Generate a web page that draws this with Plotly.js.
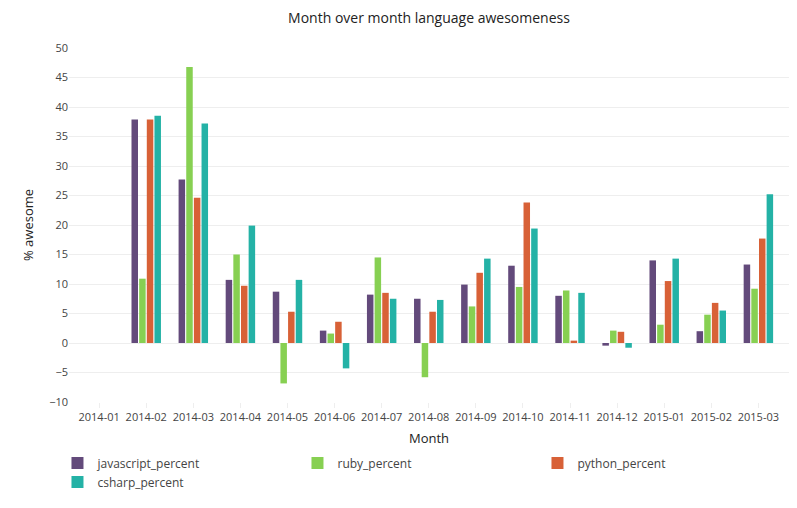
<!DOCTYPE html>
<html>
<head>
<meta charset="utf-8">
<script src="https://cdn.plot.ly/plotly-3.0.1.min.js"></script>
<style>html,body{margin:0;padding:0;background:#fff;}#chart{width:797px;height:508px;}</style>
</head>
<body>
<div id="chart"></div>
<script>
var months = ['2014-01','2014-02','2014-03','2014-04','2014-05','2014-06','2014-07','2014-08','2014-09','2014-10','2014-11','2014-12','2015-01','2015-02','2015-03'];
var javascript_percent = [null, 37.9, 27.7, 10.7, 8.7, 2.1, 8.2, 7.5, 9.9, 13.1, 8.0, -0.45, 14.0, 2.0, 13.3];
var ruby_percent       = [null, 10.9, 46.8, 15.0, -6.85, 1.6, 14.5, -5.8, 6.2, 9.5, 8.9, 2.1, 3.1, 4.8, 9.2];
var python_percent     = [null, 37.9, 24.6, 9.7, 5.3, 3.6, 8.5, 5.3, 11.9, 23.8, 0.4, 1.9, 10.5, 6.8, 17.7];
var csharp_percent     = [null, 38.5, 37.2, 19.9, 10.7, -4.3, 7.5, 7.3, 14.3, 19.4, 8.5, -0.8, 14.3, 5.5, 25.2];

var seriesNames = ['javascript_percent','ruby_percent','python_percent','csharp_percent'];
var seriesValues = [javascript_percent, ruby_percent, python_percent, csharp_percent];
var colors = ['#634a7b','#87d052','#d86137','#24b2a6'];

var data = seriesNames.map(function(n, i){
  return {type:'bar', name:n, x:months, y:seriesValues[i], marker:{color:colors[i]}};
});

var layout = {
  width:797, height:508,
  margin:{l:69, r:8, t:48, b:106},
  font:{family:'"Open Sans", sans-serif', size:12, color:'#444'},
  title:{text:'Month over month language awesomeness', x:0.5, xref:'paper', xanchor:'center', y:0.9646, yanchor:'middle', font:{size:14, color:'#222'}},
  bargap:0.35, bargroupgap:0.15,
  xaxis:{type:'category', range:[-0.64, 14.65], ticks:'outside', ticklen:5, tickcolor:'#eee', showgrid:false, tickangle:0,
         tickfont:{size:11},
         title:{text:'Month', font:{size:13, color:'#222'}, standoff:10}, showline:false, zeroline:false},
  yaxis:{range:[-10, 50], dtick:5, gridcolor:'#eee', zeroline:true, zerolinecolor:'#eee', zerolinewidth:1,
         tickfont:{size:11},
         title:{text:'% awesome', font:{size:13, color:'#222'}}, showline:false},
  legend:{orientation:'h', x:-0.016, xanchor:'left', y:-0.1315, yanchor:'top', entrywidth:195, font:{size:12, color:'#444'}},
  paper_bgcolor:'#fff', plot_bgcolor:'#fff'
};

Plotly.newPlot('chart', data, layout, {displayModeBar:false, staticPlot:true});
</script>
</body>
</html>
